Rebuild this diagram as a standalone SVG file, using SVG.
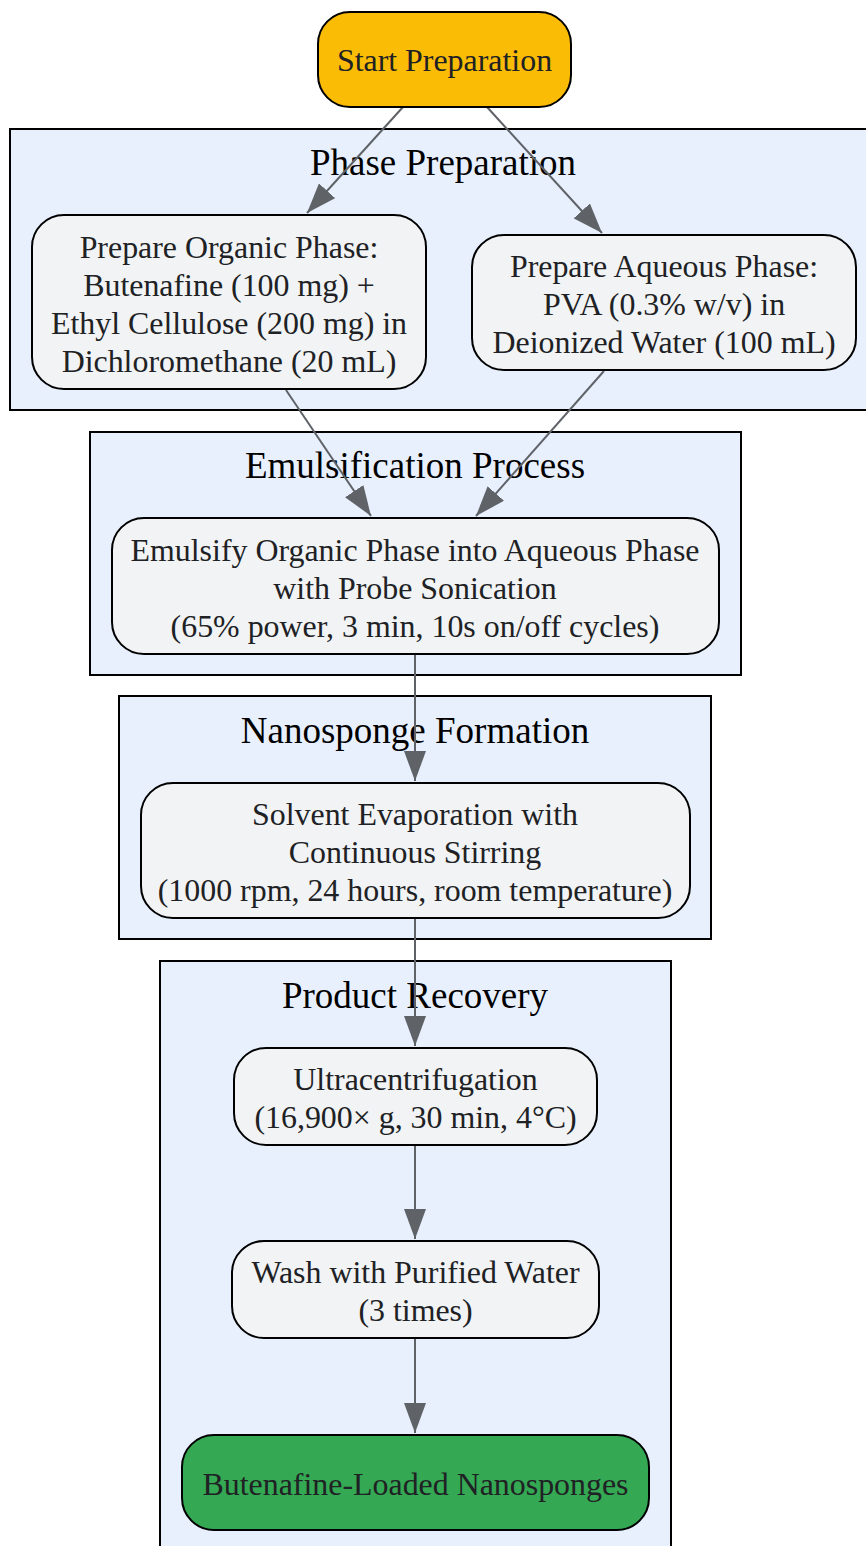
<svg xmlns="http://www.w3.org/2000/svg" width="866" height="1546" viewBox="0 0 866 1546">
<style>
.cluster{fill:#E8F0FE;stroke:#000;stroke-width:2}
.ctitle{font-family:"Liberation Serif","Times New Roman",serif;font-size:37px;fill:#000;text-anchor:middle}
.node{fill:#F1F3F4;stroke:#000;stroke-width:2}
.ntext{font-family:"Liberation Serif","Times New Roman",serif;font-size:31.9px;fill:#202124;text-anchor:middle}
.edge{stroke:#5F6368;stroke-width:2;fill:none;marker-end:url(#arrow)}
</style>
<defs>
<marker id="arrow" markerUnits="userSpaceOnUse" markerWidth="31" markerHeight="22" refX="30" refY="11" orient="auto">
<path d="M0,0 L30,11 L0,22 z" fill="#5F6368"/>
</marker>
</defs>
<g id="clusters">
<g id="cluster_phase"><rect class="cluster" x="10" y="129" width="870" height="281"/><text class="ctitle" x="443" y="175">Phase Preparation</text></g>
<g id="cluster_emul"><rect class="cluster" x="90" y="432" width="651" height="243"/><text class="ctitle" x="415" y="478">Emulsification Process</text></g>
<g id="cluster_nano"><rect class="cluster" x="119" y="696" width="592" height="243"/><text class="ctitle" x="415" y="743">Nanosponge Formation</text></g>
<g id="cluster_recovery"><rect class="cluster" x="160" y="961" width="511" height="600"/><text class="ctitle" x="415" y="1008">Product Recovery</text></g>
</g>
<g id="connectors">
<line class="edge" x1="403" y1="107" x2="307" y2="213"/>
<line class="edge" x1="487" y1="107" x2="602" y2="233"/>
<line class="edge" x1="286" y1="390" x2="371" y2="516"/>
<line class="edge" x1="604" y1="371" x2="476" y2="516"/>
<line class="edge" x1="415" y1="654" x2="415" y2="781"/>
<line class="edge" x1="415" y1="918" x2="415" y2="1046"/>
<line class="edge" x1="415" y1="1145" x2="415" y2="1239"/>
<line class="edge" x1="415" y1="1338" x2="415" y2="1433"/>
</g>
<g id="start"><rect x="318" y="12" width="253" height="95" rx="32" fill="#FBBC05" stroke="#000" stroke-width="2"/><text class="ntext" x="444.5" y="71">Start Preparation</text></g>
<g id="organic"><rect class="node" x="32" y="215" width="394" height="174" rx="32"/>
<text class="ntext" x="229" y="258">Prepare Organic Phase:</text>
<text class="ntext" x="229" y="296">Butenafine (100 mg) +</text>
<text class="ntext" x="229" y="334">Ethyl Cellulose (200 mg) in</text>
<text class="ntext" x="229" y="372">Dichloromethane (20 mL)</text></g>
<g id="aqueous"><rect class="node" x="472" y="235" width="384" height="135" rx="32"/>
<text class="ntext" x="664" y="277">Prepare Aqueous Phase:</text>
<text class="ntext" x="664" y="315">PVA (0.3% w/v) in</text>
<text class="ntext" x="664" y="353">Deionized Water (100 mL)</text></g>
<g id="emulsify"><rect class="node" x="112" y="518" width="607" height="136" rx="32"/>
<text class="ntext" x="415" y="561">Emulsify Organic Phase into Aqueous Phase</text>
<text class="ntext" x="415" y="599">with Probe Sonication</text>
<text class="ntext" x="415" y="637">(65% power, 3 min, 10s on/off cycles)</text></g>
<g id="evaporation"><rect class="node" x="141" y="783" width="549" height="135" rx="32"/>
<text class="ntext" x="415" y="825">Solvent Evaporation with</text>
<text class="ntext" x="415" y="863">Continuous Stirring</text>
<text class="ntext" x="415" y="901">(1000 rpm, 24 hours, room temperature)</text></g>
<g id="ultra"><rect class="node" x="234" y="1048" width="363" height="97" rx="32"/>
<text class="ntext" x="415.5" y="1090">Ultracentrifugation</text>
<text class="ntext" x="415.5" y="1128">(16,900× g, 30 min, 4°C)</text></g>
<g id="wash"><rect class="node" x="232" y="1241" width="367" height="97" rx="32"/>
<text class="ntext" x="415.5" y="1283">Wash with Purified Water</text>
<text class="ntext" x="415.5" y="1321">(3 times)</text></g>
<g id="final"><rect x="182" y="1435" width="467" height="95" rx="32" fill="#34A853" stroke="#000" stroke-width="2"/>
<text class="ntext" x="415.5" y="1495">Butenafine-Loaded Nanosponges</text></g>
</svg>
